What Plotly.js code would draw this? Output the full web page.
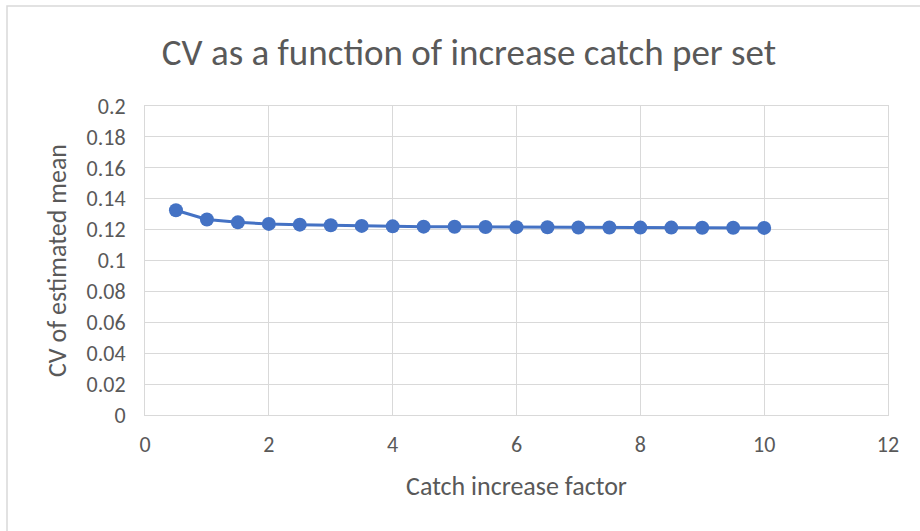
<!DOCTYPE html>
<html>
<head>
<meta charset="utf-8">
<script src="https://cdn.plot.ly/plotly-3.0.1.min.js"></script>
<style>html,body{margin:0;padding:0;background:#fff;}#chart{width:920px;height:531px;}</style>
</head>
<body>
<div id="chart"></div>
<script>
var catchFactor = [0.5, 1, 1.5, 2, 2.5, 3, 3.5, 4, 4.5, 5, 5.5, 6, 6.5, 7, 7.5, 8, 8.5, 9, 9.5, 10];
var cvMean = [0.1325, 0.1265, 0.1247, 0.1237, 0.1232, 0.1228, 0.1224, 0.1221, 0.1219, 0.1218, 0.1217, 0.1216, 0.1215, 0.1214, 0.1214, 0.1213, 0.1213, 0.1212, 0.1212, 0.1211];
var chartTitle = "CV as a function of increase catch per set";
var xTitle = "Catch increase factor";
var yTitle = "CV of estimated mean";

var fontFam = "Carlito, 'Liberation Sans Narrow', 'Open Sans', sans-serif";
var L = 145, R = 888, T = 106, B = 415;
var W = 920, H = 531;
var pw = R - L, ph = B - T;

var trace = {
  x: catchFactor, y: cvMean, type: 'scatter', mode: 'lines+markers',
  line: {color: '#4472C4', width: 3},
  marker: {color: '#4472C4', size: 14},
  hoverinfo: 'x+y'
};

var layout = {
  width: W, height: H,
  paper_bgcolor: '#ffffff', plot_bgcolor: '#ffffff',
  margin: {l: L, r: W - R, t: T, b: H - B, pad: 0},
  showlegend: false,
  font: {family: fontFam, color: '#595959'},
  title: {text: chartTitle, font: {family: fontFam, size: 37, color: '#595959'}, x: 469 / W, xanchor: 'center', y: 1 - 52 / H, yanchor: 'middle'},
  xaxis: {
    range: [0, 12], dtick: 2, tick0: 0,
    showgrid: true, gridcolor: '#d9d9d9', gridwidth: 1,
    zeroline: false, showline: true, linecolor: '#d9d9d9', linewidth: 1, mirror: true,
    ticks: '', ticklabelstandoff: 10, tickfont: {family: fontFam, size: 22, color: '#595959'},
    title: {text: xTitle, font: {family: fontFam, size: 26, color: '#595959'}, standoff: 19}
  },
  yaxis: {
    range: [0, 0.2], dtick: 0.02, tick0: 0,
    showgrid: true, gridcolor: '#d9d9d9', gridwidth: 1,
    zeroline: false, showline: true, linecolor: '#d9d9d9', linewidth: 1, mirror: true,
    ticks: '', ticklabelstandoff: 14, tickfont: {family: fontFam, size: 22, color: '#595959'},
    tickformat: '~g',
    title: {text: yTitle, font: {family: fontFam, size: 26, color: '#595959'}, standoff: 12}
  },
  shapes: [{
    type: 'rect', xref: 'paper', yref: 'paper',
    x0: (7 - L) / pw, x1: (930 - L) / pw,
    y0: (B - 540) / ph, y1: (B - 6) / ph,
    line: {color: '#d9d9d9', width: 1.5}, fillcolor: 'rgba(0,0,0,0)', layer: 'below'
  }]
};

Plotly.newPlot('chart', [trace], layout, {displayModeBar: false, staticPlot: true});
</script>
</body>
</html>
